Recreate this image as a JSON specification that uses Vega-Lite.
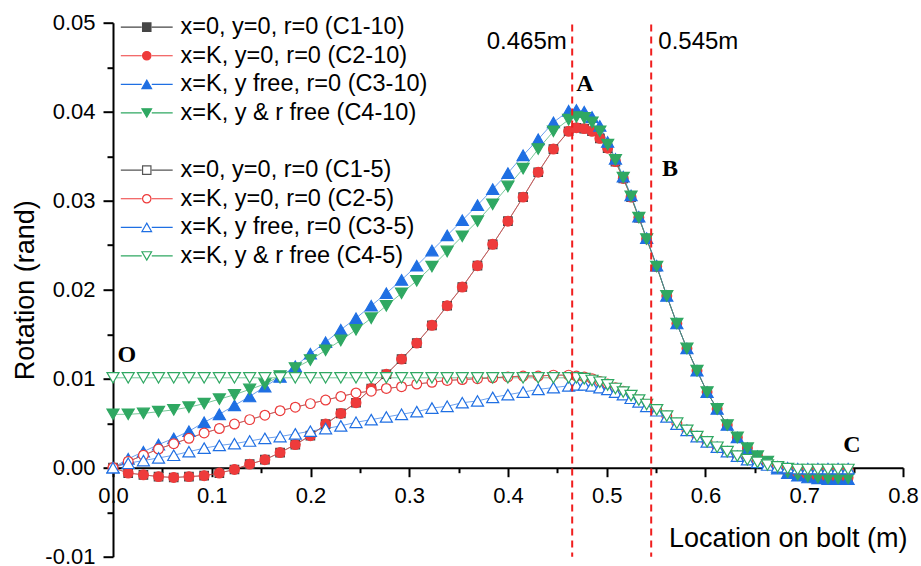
{
"$schema": "https://vega.github.io/schema/vega-lite/v6.json",
"width": 790, "height": 534,
"autosize": {"type": "none"},
"padding": {"left": 113, "top": 22.7, "right": 18, "bottom": 9.3},
"background": "white",
"config": {"view": {"stroke": null}, "font": "Liberation Sans",
 "axis": {"domainColor": "black", "domainWidth": 2, "tickColor": "black", "tickWidth": 2, "labelColor": "black", "labelFont": "Liberation Sans", "labelFontSize": 22, "titleFont": "Liberation Sans", "titleFontSize": 27, "titleFontWeight": "normal", "titleColor": "black", "grid": false},
 "legend": {"orient": "none", "legendX": 22, "legendY": -7.3, "title": null, "padding": 0, "labelFont": "Liberation Sans", "labelFontSize": 23.5, "labelColor": "black", "labelOffset": 22, "labelLimit": 400, "symbolSize": 70, "symbolStrokeWidth": 1.2, "symbolOpacity": 1, "rowPadding": 3.6}},
"data": {"values": [
{"s":"C1-10","x":0,"y":0},{"s":"C1-10","x":0.0154,"y":-0.0006},{"s":"C1-10","x":0.0308,"y":-0.0008},{"s":"C1-10","x":0.0461,"y":-0.001},{"s":"C1-10","x":0.0615,"y":-0.0011},{"s":"C1-10","x":0.0769,"y":-0.001},{"s":"C1-10","x":0.0923,"y":-0.0009},{"s":"C1-10","x":0.1077,"y":-0.0006},{"s":"C1-10","x":0.123,"y":-0.0002},{"s":"C1-10","x":0.1384,"y":0.0004},{"s":"C1-10","x":0.1538,"y":0.0009},{"s":"C1-10","x":0.1692,"y":0.0017},{"s":"C1-10","x":0.1846,"y":0.0026},{"s":"C1-10","x":0.1999,"y":0.0036},{"s":"C1-10","x":0.2153,"y":0.0049},{"s":"C1-10","x":0.2307,"y":0.0061},{"s":"C1-10","x":0.2461,"y":0.0073},{"s":"C1-10","x":0.2615,"y":0.0089},{"s":"C1-10","x":0.2768,"y":0.0105},{"s":"C1-10","x":0.2922,"y":0.0122},{"s":"C1-10","x":0.3076,"y":0.014},{"s":"C1-10","x":0.323,"y":0.016},{"s":"C1-10","x":0.3384,"y":0.0182},{"s":"C1-10","x":0.3537,"y":0.0203},{"s":"C1-10","x":0.3691,"y":0.0227},{"s":"C1-10","x":0.3845,"y":0.0251},{"s":"C1-10","x":0.3999,"y":0.0277},{"s":"C1-10","x":0.4153,"y":0.0304},{"s":"C1-10","x":0.4306,"y":0.0332},{"s":"C1-10","x":0.446,"y":0.0358},{"s":"C1-10","x":0.4614,"y":0.0378},{"s":"C1-10","x":0.4693,"y":0.0382},{"s":"C1-10","x":0.4772,"y":0.0381},{"s":"C1-10","x":0.4851,"y":0.0378},{"s":"C1-10","x":0.493,"y":0.037},{"s":"C1-10","x":0.5009,"y":0.0359},{"s":"C1-10","x":0.5088,"y":0.0344},{"s":"C1-10","x":0.5167,"y":0.0325},{"s":"C1-10","x":0.5246,"y":0.0304},{"s":"C1-10","x":0.5325,"y":0.0281},{"s":"C1-10","x":0.5404,"y":0.0257},{"s":"C1-10","x":0.5506,"y":0.0226},{"s":"C1-10","x":0.5608,"y":0.0193},{"s":"C1-10","x":0.571,"y":0.0162},{"s":"C1-10","x":0.5812,"y":0.0134},{"s":"C1-10","x":0.5914,"y":0.0109},{"s":"C1-10","x":0.6016,"y":0.0085},{"s":"C1-10","x":0.6118,"y":0.0066},{"s":"C1-10","x":0.622,"y":0.0048},{"s":"C1-10","x":0.6322,"y":0.0034},{"s":"C1-10","x":0.6424,"y":0.0022},{"s":"C1-10","x":0.6526,"y":0.0013},{"s":"C1-10","x":0.6628,"y":0.0007},{"s":"C1-10","x":0.673,"y":0},{"s":"C1-10","x":0.6832,"y":-0.0005},{"s":"C1-10","x":0.6934,"y":-0.0008},{"s":"C1-10","x":0.7036,"y":-0.001},{"s":"C1-10","x":0.7138,"y":-0.0011},{"s":"C1-10","x":0.724,"y":-0.0011},{"s":"C1-10","x":0.7342,"y":-0.0011},{"s":"C1-10","x":0.7444,"y":-0.0011},
{"s":"C2-10","x":0,"y":0},{"s":"C2-10","x":0.0154,"y":-0.0006},{"s":"C2-10","x":0.0308,"y":-0.0008},{"s":"C2-10","x":0.0461,"y":-0.001},{"s":"C2-10","x":0.0615,"y":-0.0011},{"s":"C2-10","x":0.0769,"y":-0.001},{"s":"C2-10","x":0.0923,"y":-0.0009},{"s":"C2-10","x":0.1077,"y":-0.0006},{"s":"C2-10","x":0.123,"y":-0.0002},{"s":"C2-10","x":0.1384,"y":0.0004},{"s":"C2-10","x":0.1538,"y":0.0009},{"s":"C2-10","x":0.1692,"y":0.0017},{"s":"C2-10","x":0.1846,"y":0.0026},{"s":"C2-10","x":0.1999,"y":0.0036},{"s":"C2-10","x":0.2153,"y":0.0049},{"s":"C2-10","x":0.2307,"y":0.0061},{"s":"C2-10","x":0.2461,"y":0.0073},{"s":"C2-10","x":0.2615,"y":0.0089},{"s":"C2-10","x":0.2768,"y":0.0105},{"s":"C2-10","x":0.2922,"y":0.0122},{"s":"C2-10","x":0.3076,"y":0.014},{"s":"C2-10","x":0.323,"y":0.016},{"s":"C2-10","x":0.3384,"y":0.0182},{"s":"C2-10","x":0.3537,"y":0.0203},{"s":"C2-10","x":0.3691,"y":0.0227},{"s":"C2-10","x":0.3845,"y":0.0251},{"s":"C2-10","x":0.3999,"y":0.0277},{"s":"C2-10","x":0.4153,"y":0.0304},{"s":"C2-10","x":0.4306,"y":0.0332},{"s":"C2-10","x":0.446,"y":0.0358},{"s":"C2-10","x":0.4614,"y":0.0378},{"s":"C2-10","x":0.4693,"y":0.0382},{"s":"C2-10","x":0.4772,"y":0.0381},{"s":"C2-10","x":0.4851,"y":0.0378},{"s":"C2-10","x":0.493,"y":0.037},{"s":"C2-10","x":0.5009,"y":0.0359},{"s":"C2-10","x":0.5088,"y":0.0344},{"s":"C2-10","x":0.5167,"y":0.0325},{"s":"C2-10","x":0.5246,"y":0.0304},{"s":"C2-10","x":0.5325,"y":0.0281},{"s":"C2-10","x":0.5404,"y":0.0257},{"s":"C2-10","x":0.5506,"y":0.0226},{"s":"C2-10","x":0.5608,"y":0.0193},{"s":"C2-10","x":0.571,"y":0.0162},{"s":"C2-10","x":0.5812,"y":0.0134},{"s":"C2-10","x":0.5914,"y":0.0109},{"s":"C2-10","x":0.6016,"y":0.0085},{"s":"C2-10","x":0.6118,"y":0.0066},{"s":"C2-10","x":0.622,"y":0.0048},{"s":"C2-10","x":0.6322,"y":0.0034},{"s":"C2-10","x":0.6424,"y":0.0022},{"s":"C2-10","x":0.6526,"y":0.0013},{"s":"C2-10","x":0.6628,"y":0.0007},{"s":"C2-10","x":0.673,"y":0},{"s":"C2-10","x":0.6832,"y":-0.0005},{"s":"C2-10","x":0.6934,"y":-0.0008},{"s":"C2-10","x":0.7036,"y":-0.001},{"s":"C2-10","x":0.7138,"y":-0.0011},{"s":"C2-10","x":0.724,"y":-0.0011},{"s":"C2-10","x":0.7342,"y":-0.0011},{"s":"C2-10","x":0.7444,"y":-0.0011},
{"s":"C3-10","x":0,"y":0},{"s":"C3-10","x":0.0154,"y":0.001},{"s":"C3-10","x":0.0308,"y":0.0018},{"s":"C3-10","x":0.0461,"y":0.0026},{"s":"C3-10","x":0.0615,"y":0.0033},{"s":"C3-10","x":0.0769,"y":0.0041},{"s":"C3-10","x":0.0923,"y":0.0051},{"s":"C3-10","x":0.1077,"y":0.006},{"s":"C3-10","x":0.123,"y":0.007},{"s":"C3-10","x":0.1384,"y":0.008},{"s":"C3-10","x":0.1538,"y":0.0091},{"s":"C3-10","x":0.1692,"y":0.0102},{"s":"C3-10","x":0.1846,"y":0.0114},{"s":"C3-10","x":0.1999,"y":0.0128},{"s":"C3-10","x":0.2153,"y":0.0141},{"s":"C3-10","x":0.2307,"y":0.0155},{"s":"C3-10","x":0.2461,"y":0.0168},{"s":"C3-10","x":0.2615,"y":0.0182},{"s":"C3-10","x":0.2768,"y":0.0196},{"s":"C3-10","x":0.2922,"y":0.0211},{"s":"C3-10","x":0.3076,"y":0.0227},{"s":"C3-10","x":0.323,"y":0.0244},{"s":"C3-10","x":0.3384,"y":0.0261},{"s":"C3-10","x":0.3537,"y":0.0278},{"s":"C3-10","x":0.3691,"y":0.0295},{"s":"C3-10","x":0.3845,"y":0.0313},{"s":"C3-10","x":0.3999,"y":0.0331},{"s":"C3-10","x":0.4153,"y":0.0351},{"s":"C3-10","x":0.4306,"y":0.0369},{"s":"C3-10","x":0.446,"y":0.0388},{"s":"C3-10","x":0.4614,"y":0.0401},{"s":"C3-10","x":0.4693,"y":0.0402},{"s":"C3-10","x":0.4772,"y":0.04},{"s":"C3-10","x":0.4851,"y":0.0394},{"s":"C3-10","x":0.493,"y":0.0384},{"s":"C3-10","x":0.5009,"y":0.0366},{"s":"C3-10","x":0.5088,"y":0.0347},{"s":"C3-10","x":0.5167,"y":0.0327},{"s":"C3-10","x":0.5246,"y":0.0306},{"s":"C3-10","x":0.5325,"y":0.0282},{"s":"C3-10","x":0.5404,"y":0.0258},{"s":"C3-10","x":0.5506,"y":0.0227},{"s":"C3-10","x":0.5608,"y":0.0193},{"s":"C3-10","x":0.571,"y":0.0162},{"s":"C3-10","x":0.5812,"y":0.0134},{"s":"C3-10","x":0.5914,"y":0.0109},{"s":"C3-10","x":0.6016,"y":0.0085},{"s":"C3-10","x":0.6118,"y":0.0066},{"s":"C3-10","x":0.622,"y":0.0048},{"s":"C3-10","x":0.6322,"y":0.0034},{"s":"C3-10","x":0.6424,"y":0.0022},{"s":"C3-10","x":0.6526,"y":0.0013},{"s":"C3-10","x":0.6628,"y":0.0006},{"s":"C3-10","x":0.673,"y":-0.0001},{"s":"C3-10","x":0.6832,"y":-0.0006},{"s":"C3-10","x":0.6934,"y":-0.0009},{"s":"C3-10","x":0.7036,"y":-0.0011},{"s":"C3-10","x":0.7138,"y":-0.0012},{"s":"C3-10","x":0.724,"y":-0.0013},{"s":"C3-10","x":0.7342,"y":-0.0013},{"s":"C3-10","x":0.7444,"y":-0.0013},
{"s":"C4-10","x":0,"y":0.006},{"s":"C4-10","x":0.0154,"y":0.006},{"s":"C4-10","x":0.0308,"y":0.0061},{"s":"C4-10","x":0.0461,"y":0.0063},{"s":"C4-10","x":0.0615,"y":0.0065},{"s":"C4-10","x":0.0769,"y":0.0068},{"s":"C4-10","x":0.0923,"y":0.0072},{"s":"C4-10","x":0.1077,"y":0.0077},{"s":"C4-10","x":0.123,"y":0.0082},{"s":"C4-10","x":0.1384,"y":0.0088},{"s":"C4-10","x":0.1538,"y":0.0094},{"s":"C4-10","x":0.1692,"y":0.0103},{"s":"C4-10","x":0.1846,"y":0.0112},{"s":"C4-10","x":0.1999,"y":0.0121},{"s":"C4-10","x":0.2153,"y":0.0132},{"s":"C4-10","x":0.2307,"y":0.0143},{"s":"C4-10","x":0.2461,"y":0.0155},{"s":"C4-10","x":0.2615,"y":0.0168},{"s":"C4-10","x":0.2768,"y":0.0182},{"s":"C4-10","x":0.2922,"y":0.0196},{"s":"C4-10","x":0.3076,"y":0.021},{"s":"C4-10","x":0.323,"y":0.0226},{"s":"C4-10","x":0.3384,"y":0.0243},{"s":"C4-10","x":0.3537,"y":0.026},{"s":"C4-10","x":0.3691,"y":0.0277},{"s":"C4-10","x":0.3845,"y":0.0296},{"s":"C4-10","x":0.3999,"y":0.0316},{"s":"C4-10","x":0.4153,"y":0.0336},{"s":"C4-10","x":0.4306,"y":0.0358},{"s":"C4-10","x":0.446,"y":0.0378},{"s":"C4-10","x":0.4614,"y":0.0391},{"s":"C4-10","x":0.4693,"y":0.0394},{"s":"C4-10","x":0.4772,"y":0.0393},{"s":"C4-10","x":0.4851,"y":0.0388},{"s":"C4-10","x":0.493,"y":0.0378},{"s":"C4-10","x":0.5009,"y":0.0363},{"s":"C4-10","x":0.5088,"y":0.0346},{"s":"C4-10","x":0.5167,"y":0.0326},{"s":"C4-10","x":0.5246,"y":0.0305},{"s":"C4-10","x":0.5325,"y":0.0281},{"s":"C4-10","x":0.5404,"y":0.0257},{"s":"C4-10","x":0.5506,"y":0.0226},{"s":"C4-10","x":0.5608,"y":0.0193},{"s":"C4-10","x":0.571,"y":0.0162},{"s":"C4-10","x":0.5812,"y":0.0134},{"s":"C4-10","x":0.5914,"y":0.0109},{"s":"C4-10","x":0.6016,"y":0.0085},{"s":"C4-10","x":0.6118,"y":0.0066},{"s":"C4-10","x":0.622,"y":0.0048},{"s":"C4-10","x":0.6322,"y":0.0034},{"s":"C4-10","x":0.6424,"y":0.0022},{"s":"C4-10","x":0.6526,"y":0.0013},{"s":"C4-10","x":0.6628,"y":0.0007},{"s":"C4-10","x":0.673,"y":0},{"s":"C4-10","x":0.6832,"y":-0.0005},{"s":"C4-10","x":0.6934,"y":-0.0008},{"s":"C4-10","x":0.7036,"y":-0.001},{"s":"C4-10","x":0.7138,"y":-0.0011},{"s":"C4-10","x":0.724,"y":-0.0012},{"s":"C4-10","x":0.7342,"y":-0.0012},{"s":"C4-10","x":0.7444,"y":-0.0012},
{"s":"C1-5","x":0,"y":0},{"s":"C1-5","x":0.0154,"y":0.0007},{"s":"C1-5","x":0.0308,"y":0.0014},{"s":"C1-5","x":0.0461,"y":0.0021},{"s":"C1-5","x":0.0615,"y":0.0027},{"s":"C1-5","x":0.0769,"y":0.0033},{"s":"C1-5","x":0.0923,"y":0.0039},{"s":"C1-5","x":0.1077,"y":0.0044},{"s":"C1-5","x":0.123,"y":0.0049},{"s":"C1-5","x":0.1384,"y":0.0054},{"s":"C1-5","x":0.1538,"y":0.0059},{"s":"C1-5","x":0.1692,"y":0.0064},{"s":"C1-5","x":0.1846,"y":0.0068},{"s":"C1-5","x":0.1999,"y":0.0072},{"s":"C1-5","x":0.2153,"y":0.0076},{"s":"C1-5","x":0.2307,"y":0.008},{"s":"C1-5","x":0.2461,"y":0.0084},{"s":"C1-5","x":0.2615,"y":0.0086},{"s":"C1-5","x":0.2768,"y":0.0089},{"s":"C1-5","x":0.2922,"y":0.0091},{"s":"C1-5","x":0.3076,"y":0.0094},{"s":"C1-5","x":0.323,"y":0.0096},{"s":"C1-5","x":0.3384,"y":0.0098},{"s":"C1-5","x":0.3537,"y":0.0099},{"s":"C1-5","x":0.3691,"y":0.01},{"s":"C1-5","x":0.3845,"y":0.0101},{"s":"C1-5","x":0.3999,"y":0.0102},{"s":"C1-5","x":0.4153,"y":0.0103},{"s":"C1-5","x":0.4306,"y":0.0103},{"s":"C1-5","x":0.446,"y":0.0104},{"s":"C1-5","x":0.4614,"y":0.0104},{"s":"C1-5","x":0.4693,"y":0.0103},{"s":"C1-5","x":0.4772,"y":0.0102},{"s":"C1-5","x":0.4851,"y":0.01},{"s":"C1-5","x":0.493,"y":0.0097},{"s":"C1-5","x":0.5009,"y":0.0094},{"s":"C1-5","x":0.5088,"y":0.009},{"s":"C1-5","x":0.5167,"y":0.0086},{"s":"C1-5","x":0.5246,"y":0.0081},{"s":"C1-5","x":0.5325,"y":0.0076},{"s":"C1-5","x":0.5404,"y":0.0071},{"s":"C1-5","x":0.5506,"y":0.0065},{"s":"C1-5","x":0.5608,"y":0.0058},{"s":"C1-5","x":0.571,"y":0.005},{"s":"C1-5","x":0.5812,"y":0.0042},{"s":"C1-5","x":0.5914,"y":0.0035},{"s":"C1-5","x":0.6016,"y":0.0029},{"s":"C1-5","x":0.6118,"y":0.0023},{"s":"C1-5","x":0.622,"y":0.0018},{"s":"C1-5","x":0.6322,"y":0.0013},{"s":"C1-5","x":0.6424,"y":0.0009},{"s":"C1-5","x":0.6526,"y":0.0006},{"s":"C1-5","x":0.6628,"y":0.0003},{"s":"C1-5","x":0.673,"y":0.0001},{"s":"C1-5","x":0.6832,"y":-0.0001},{"s":"C1-5","x":0.6934,"y":-0.0002},{"s":"C1-5","x":0.7036,"y":-0.0002},{"s":"C1-5","x":0.7138,"y":-0.0002},{"s":"C1-5","x":0.724,"y":-0.0002},{"s":"C1-5","x":0.7342,"y":-0.0002},{"s":"C1-5","x":0.7444,"y":-0.0002},
{"s":"C2-5","x":0,"y":0},{"s":"C2-5","x":0.0154,"y":0.0007},{"s":"C2-5","x":0.0308,"y":0.0014},{"s":"C2-5","x":0.0461,"y":0.0021},{"s":"C2-5","x":0.0615,"y":0.0027},{"s":"C2-5","x":0.0769,"y":0.0033},{"s":"C2-5","x":0.0923,"y":0.0039},{"s":"C2-5","x":0.1077,"y":0.0044},{"s":"C2-5","x":0.123,"y":0.0049},{"s":"C2-5","x":0.1384,"y":0.0054},{"s":"C2-5","x":0.1538,"y":0.0059},{"s":"C2-5","x":0.1692,"y":0.0064},{"s":"C2-5","x":0.1846,"y":0.0068},{"s":"C2-5","x":0.1999,"y":0.0072},{"s":"C2-5","x":0.2153,"y":0.0076},{"s":"C2-5","x":0.2307,"y":0.008},{"s":"C2-5","x":0.2461,"y":0.0084},{"s":"C2-5","x":0.2615,"y":0.0086},{"s":"C2-5","x":0.2768,"y":0.0089},{"s":"C2-5","x":0.2922,"y":0.0091},{"s":"C2-5","x":0.3076,"y":0.0094},{"s":"C2-5","x":0.323,"y":0.0096},{"s":"C2-5","x":0.3384,"y":0.0098},{"s":"C2-5","x":0.3537,"y":0.0099},{"s":"C2-5","x":0.3691,"y":0.01},{"s":"C2-5","x":0.3845,"y":0.0101},{"s":"C2-5","x":0.3999,"y":0.0102},{"s":"C2-5","x":0.4153,"y":0.0103},{"s":"C2-5","x":0.4306,"y":0.0103},{"s":"C2-5","x":0.446,"y":0.0104},{"s":"C2-5","x":0.4614,"y":0.0104},{"s":"C2-5","x":0.4693,"y":0.0103},{"s":"C2-5","x":0.4772,"y":0.0102},{"s":"C2-5","x":0.4851,"y":0.01},{"s":"C2-5","x":0.493,"y":0.0097},{"s":"C2-5","x":0.5009,"y":0.0094},{"s":"C2-5","x":0.5088,"y":0.009},{"s":"C2-5","x":0.5167,"y":0.0086},{"s":"C2-5","x":0.5246,"y":0.0081},{"s":"C2-5","x":0.5325,"y":0.0076},{"s":"C2-5","x":0.5404,"y":0.0071},{"s":"C2-5","x":0.5506,"y":0.0065},{"s":"C2-5","x":0.5608,"y":0.0058},{"s":"C2-5","x":0.571,"y":0.005},{"s":"C2-5","x":0.5812,"y":0.0042},{"s":"C2-5","x":0.5914,"y":0.0035},{"s":"C2-5","x":0.6016,"y":0.0029},{"s":"C2-5","x":0.6118,"y":0.0023},{"s":"C2-5","x":0.622,"y":0.0018},{"s":"C2-5","x":0.6322,"y":0.0013},{"s":"C2-5","x":0.6424,"y":0.0009},{"s":"C2-5","x":0.6526,"y":0.0006},{"s":"C2-5","x":0.6628,"y":0.0003},{"s":"C2-5","x":0.673,"y":0.0001},{"s":"C2-5","x":0.6832,"y":-0.0001},{"s":"C2-5","x":0.6934,"y":-0.0002},{"s":"C2-5","x":0.7036,"y":-0.0002},{"s":"C2-5","x":0.7138,"y":-0.0002},{"s":"C2-5","x":0.724,"y":-0.0002},{"s":"C2-5","x":0.7342,"y":-0.0002},{"s":"C2-5","x":0.7444,"y":-0.0002},
{"s":"C3-5","x":0,"y":0},{"s":"C3-5","x":0.0154,"y":0.0005},{"s":"C3-5","x":0.0308,"y":0.0008},{"s":"C3-5","x":0.0461,"y":0.0011},{"s":"C3-5","x":0.0615,"y":0.0014},{"s":"C3-5","x":0.0769,"y":0.0018},{"s":"C3-5","x":0.0923,"y":0.0022},{"s":"C3-5","x":0.1077,"y":0.0025},{"s":"C3-5","x":0.123,"y":0.0027},{"s":"C3-5","x":0.1384,"y":0.003},{"s":"C3-5","x":0.1538,"y":0.0033},{"s":"C3-5","x":0.1692,"y":0.0035},{"s":"C3-5","x":0.1846,"y":0.0038},{"s":"C3-5","x":0.1999,"y":0.0041},{"s":"C3-5","x":0.2153,"y":0.0044},{"s":"C3-5","x":0.2307,"y":0.0047},{"s":"C3-5","x":0.2461,"y":0.0051},{"s":"C3-5","x":0.2615,"y":0.0054},{"s":"C3-5","x":0.2768,"y":0.0057},{"s":"C3-5","x":0.2922,"y":0.006},{"s":"C3-5","x":0.3076,"y":0.0063},{"s":"C3-5","x":0.323,"y":0.0067},{"s":"C3-5","x":0.3384,"y":0.0069},{"s":"C3-5","x":0.3537,"y":0.0073},{"s":"C3-5","x":0.3691,"y":0.0075},{"s":"C3-5","x":0.3845,"y":0.0079},{"s":"C3-5","x":0.3999,"y":0.0082},{"s":"C3-5","x":0.4153,"y":0.0085},{"s":"C3-5","x":0.4306,"y":0.0088},{"s":"C3-5","x":0.446,"y":0.009},{"s":"C3-5","x":0.4614,"y":0.0092},{"s":"C3-5","x":0.4693,"y":0.0093},{"s":"C3-5","x":0.4772,"y":0.0093},{"s":"C3-5","x":0.4851,"y":0.0092},{"s":"C3-5","x":0.493,"y":0.009},{"s":"C3-5","x":0.5009,"y":0.0088},{"s":"C3-5","x":0.5088,"y":0.0085},{"s":"C3-5","x":0.5167,"y":0.0082},{"s":"C3-5","x":0.5246,"y":0.0078},{"s":"C3-5","x":0.5325,"y":0.0074},{"s":"C3-5","x":0.5404,"y":0.0069},{"s":"C3-5","x":0.5506,"y":0.0064},{"s":"C3-5","x":0.5608,"y":0.0057},{"s":"C3-5","x":0.571,"y":0.0049},{"s":"C3-5","x":0.5812,"y":0.0042},{"s":"C3-5","x":0.5914,"y":0.0035},{"s":"C3-5","x":0.6016,"y":0.0029},{"s":"C3-5","x":0.6118,"y":0.0023},{"s":"C3-5","x":0.622,"y":0.0018},{"s":"C3-5","x":0.6322,"y":0.0013},{"s":"C3-5","x":0.6424,"y":0.0009},{"s":"C3-5","x":0.6526,"y":0.0006},{"s":"C3-5","x":0.6628,"y":0.0003},{"s":"C3-5","x":0.673,"y":0.0001},{"s":"C3-5","x":0.6832,"y":0},{"s":"C3-5","x":0.6934,"y":-0.0001},{"s":"C3-5","x":0.7036,"y":-0.0001},{"s":"C3-5","x":0.7138,"y":-0.0001},{"s":"C3-5","x":0.724,"y":-0.0001},{"s":"C3-5","x":0.7342,"y":-0.0001},{"s":"C3-5","x":0.7444,"y":-0.0001},
{"s":"C4-5","x":0,"y":0.0101},{"s":"C4-5","x":0.0154,"y":0.0101},{"s":"C4-5","x":0.0308,"y":0.0101},{"s":"C4-5","x":0.0461,"y":0.0101},{"s":"C4-5","x":0.0615,"y":0.0101},{"s":"C4-5","x":0.0769,"y":0.0101},{"s":"C4-5","x":0.0923,"y":0.0101},{"s":"C4-5","x":0.1077,"y":0.0101},{"s":"C4-5","x":0.123,"y":0.0101},{"s":"C4-5","x":0.1384,"y":0.0101},{"s":"C4-5","x":0.1538,"y":0.0101},{"s":"C4-5","x":0.1692,"y":0.0101},{"s":"C4-5","x":0.1846,"y":0.0101},{"s":"C4-5","x":0.1999,"y":0.0101},{"s":"C4-5","x":0.2153,"y":0.0101},{"s":"C4-5","x":0.2307,"y":0.0101},{"s":"C4-5","x":0.2461,"y":0.0101},{"s":"C4-5","x":0.2615,"y":0.0101},{"s":"C4-5","x":0.2768,"y":0.0101},{"s":"C4-5","x":0.2922,"y":0.0101},{"s":"C4-5","x":0.3076,"y":0.0101},{"s":"C4-5","x":0.323,"y":0.0101},{"s":"C4-5","x":0.3384,"y":0.0101},{"s":"C4-5","x":0.3537,"y":0.0101},{"s":"C4-5","x":0.3691,"y":0.0101},{"s":"C4-5","x":0.3845,"y":0.0101},{"s":"C4-5","x":0.3999,"y":0.0101},{"s":"C4-5","x":0.4153,"y":0.0101},{"s":"C4-5","x":0.4306,"y":0.0101},{"s":"C4-5","x":0.446,"y":0.0101},{"s":"C4-5","x":0.4614,"y":0.0101},{"s":"C4-5","x":0.4693,"y":0.0101},{"s":"C4-5","x":0.4772,"y":0.01},{"s":"C4-5","x":0.4851,"y":0.0098},{"s":"C4-5","x":0.493,"y":0.0096},{"s":"C4-5","x":0.5009,"y":0.0093},{"s":"C4-5","x":0.5088,"y":0.0089},{"s":"C4-5","x":0.5167,"y":0.0085},{"s":"C4-5","x":0.5246,"y":0.0081},{"s":"C4-5","x":0.5325,"y":0.0076},{"s":"C4-5","x":0.5404,"y":0.0071},{"s":"C4-5","x":0.5506,"y":0.0065},{"s":"C4-5","x":0.5608,"y":0.0058},{"s":"C4-5","x":0.571,"y":0.005},{"s":"C4-5","x":0.5812,"y":0.0042},{"s":"C4-5","x":0.5914,"y":0.0035},{"s":"C4-5","x":0.6016,"y":0.0029},{"s":"C4-5","x":0.6118,"y":0.0023},{"s":"C4-5","x":0.622,"y":0.0018},{"s":"C4-5","x":0.6322,"y":0.0013},{"s":"C4-5","x":0.6424,"y":0.0009},{"s":"C4-5","x":0.6526,"y":0.0006},{"s":"C4-5","x":0.6628,"y":0.0003},{"s":"C4-5","x":0.673,"y":0.0001},{"s":"C4-5","x":0.6832,"y":-0.0001},{"s":"C4-5","x":0.6934,"y":-0.0002},{"s":"C4-5","x":0.7036,"y":-0.0002},{"s":"C4-5","x":0.7138,"y":-0.0002},{"s":"C4-5","x":0.724,"y":-0.0002},{"s":"C4-5","x":0.7342,"y":-0.0002},{"s":"C4-5","x":0.7444,"y":-0.0002}
]},
"layer": [
{"mark": {"type": "line", "strokeWidth": 1, "opacity": 0.65},
 "encoding": {
  "x": {"field": "x", "type": "quantitative", "scale": {"domain": [0, 0.8], "nice": false, "zero": false},
   "axis": {"values": [0,0.05,0.1,0.15,0.2,0.25,0.3,0.35,0.4,0.45,0.5,0.55,0.6,0.65,0.7,0.75,0.8], "offset": -89, "title": "Location on bolt (m)", "titleX": 794, "titleY": 79, "titleAlign": "right", "titleBaseline": "alphabetic", "labelExpr": "abs(datum.value*10 - round(datum.value*10)) > 0.1 ? '' : format(datum.value, '.1f')", "tickSize": {"condition": {"test": "abs(datum.value*10 - round(datum.value*10)) > 0.1", "value": 5}, "value": 9}, "labelPadding": 9, "labelFlush": false, "labelOverlap": false}},
  "y": {"field": "y", "type": "quantitative", "scale": {"domain": [-0.01, 0.05], "nice": false, "zero": false},
   "axis": {"values": [-0.01,-0.005,0,0.005,0.01,0.015,0.02,0.025,0.03,0.035,0.04,0.045,0.05], "title": "Rotation (rand)", "titleX": -80, "titleY": 267, "titleAlign": "center", "titleBaseline": "alphabetic", "titleAngle": 270, "labelExpr": "abs(datum.value*100 - round(datum.value*100)) > 0.1 ? '' : (datum.value < -0.0001 ? '-' + format(-datum.value, '.2f') : format(abs(datum.value), '.2f'))", "tickSize": {"condition": {"test": "abs(datum.value*100 - round(datum.value*100)) > 0.1", "value": 6}, "value": 10}, "labelPadding": 8, "labelFlush": false, "labelOverlap": false}},
  "stroke": {"field": "s", "type": "nominal", "scale": {"domain": ["C1-10","C2-10","C3-10","C4-10","gap","C1-5","C2-5","C3-5","C4-5"], "range": ["#454545","#ee3b3b","#1f6fe3","#2fa862","transparent","#555555","#ee3b3b","#1f6fe3","#2fa862"]},
   "legend": {"labelExpr": "datum.label == 'C1-10' ? 'x=0, y=0, r=0 (C1-10)' : datum.label == 'C2-10' ? 'x=K, y=0, r=0 (C2-10)' : datum.label == 'C3-10' ? 'x=K, y free, r=0 (C3-10)' : datum.label == 'C4-10' ? 'x=K, y & r free (C4-10)' : datum.label == 'C1-5' ? 'x=0, y=0, r=0 (C1-5)' : datum.label == 'C2-5' ? 'x=K, y=0, r=0 (C2-5)' : datum.label == 'C3-5' ? 'x=K, y free, r=0 (C3-5)' : datum.label == 'C4-5' ? 'x=K, y & r free (C4-5)' : ' '",
    "encode": {"symbols": {"update": {"shape": {"signal": "'M-6.2,0H-1.2M1.2,0H6.2' + scale('shape', datum.value)"}, "opacity": {"value": 1}}}}}}
 }},
{"mark": {"type": "point", "opacity": 1, "strokeWidth": 1.2},
 "encoding": {
  "x": {"field": "x", "type": "quantitative", "scale": {"domain": [0, 0.8], "nice": false, "zero": false}},
  "y": {"field": "y", "type": "quantitative", "scale": {"domain": [-0.01, 0.05], "nice": false, "zero": false}},
  "stroke": {"field": "s", "type": "nominal", "scale": {"domain": ["C1-10","C2-10","C3-10","C4-10","gap","C1-5","C2-5","C3-5","C4-5"], "range": ["#454545","#ee3b3b","#1f6fe3","#2fa862","transparent","#555555","#ee3b3b","#1f6fe3","#2fa862"]},
   "legend": {"labelExpr": "datum.label == 'C1-10' ? 'x=0, y=0, r=0 (C1-10)' : datum.label == 'C2-10' ? 'x=K, y=0, r=0 (C2-10)' : datum.label == 'C3-10' ? 'x=K, y free, r=0 (C3-10)' : datum.label == 'C4-10' ? 'x=K, y & r free (C4-10)' : datum.label == 'C1-5' ? 'x=0, y=0, r=0 (C1-5)' : datum.label == 'C2-5' ? 'x=K, y=0, r=0 (C2-5)' : datum.label == 'C3-5' ? 'x=K, y free, r=0 (C3-5)' : datum.label == 'C4-5' ? 'x=K, y & r free (C4-5)' : ' '",
    "encode": {"symbols": {"update": {"shape": {"signal": "'M-6.2,0H-1.2M1.2,0H6.2' + scale('shape', datum.value)"}, "opacity": {"value": 1}}}}}},
  "fill": {"field": "s", "type": "nominal", "scale": {"domain": ["C1-10","C2-10","C3-10","C4-10","gap","C1-5","C2-5","C3-5","C4-5"], "range": ["#454545","#ee3b3b","#1f6fe3","#2fa862","transparent","white","white","white","white"]},
   "legend": {"labelExpr": "datum.label == 'C1-10' ? 'x=0, y=0, r=0 (C1-10)' : datum.label == 'C2-10' ? 'x=K, y=0, r=0 (C2-10)' : datum.label == 'C3-10' ? 'x=K, y free, r=0 (C3-10)' : datum.label == 'C4-10' ? 'x=K, y & r free (C4-10)' : datum.label == 'C1-5' ? 'x=0, y=0, r=0 (C1-5)' : datum.label == 'C2-5' ? 'x=K, y=0, r=0 (C2-5)' : datum.label == 'C3-5' ? 'x=K, y free, r=0 (C3-5)' : datum.label == 'C4-5' ? 'x=K, y & r free (C4-5)' : ' '",
    "encode": {"symbols": {"update": {"shape": {"signal": "'M-6.2,0H-1.2M1.2,0H6.2' + scale('shape', datum.value)"}, "opacity": {"value": 1}}}}}},
  "shape": {"field": "s", "type": "nominal", "scale": {"domain": ["gap","C1-5","C2-5","C3-5","C4-5","C1-10","C2-10","C3-10","C4-10"], "range": ["M0,0","M-1,-1H1V1H-1Z","M-1,0A1,1,0,1,0,1,0A1,1,0,1,0,-1,0Z","M0,-1L1.15,1H-1.15Z","M0,1L1.15,-1H-1.15Z","M-1,-1H1V1H-1Z","M-1,0A1,1,0,1,0,1,0A1,1,0,1,0,-1,0Z","M0,-1L1.15,1H-1.15Z","M0,1L1.15,-1H-1.15Z"]}, "legend": null},
  "size": {"field": "s", "type": "ordinal", "scale": {"type": "ordinal", "domain": ["C4-5","C3-5","C2-5","C1-5","gap","C4-10","C3-10","C2-10","C1-10"], "range": [110, 110, 95, 44, 0, 110, 110, 95, 72]}, "legend": null}
 }},
{"data": {"values": [{"x": 0.465, "y": 0.0498, "y2": -0.01}, {"x": 0.545, "y": 0.0498, "y2": -0.01}]},
 "mark": {"type": "rule", "color": "#f01e1e", "strokeWidth": 2, "strokeDash": [7, 5]},
 "encoding": {
  "x": {"field": "x", "type": "quantitative", "scale": {"domain": [0, 0.8], "nice": false, "zero": false}},
  "y": {"field": "y", "type": "quantitative", "scale": {"domain": [-0.01, 0.05], "nice": false, "zero": false}},
  "y2": {"field": "y2"}}},
{"data": {"values": [{"x": 0.4595, "y": 0.04783, "t": "0.465m"}]},
 "mark": {"type": "text", "align": "right", "baseline": "middle", "font": "Liberation Sans", "fontSize": 24, "color": "black"},
 "encoding": {
  "x": {"field": "x", "type": "quantitative", "scale": {"domain": [0, 0.8], "nice": false, "zero": false}},
  "y": {"field": "y", "type": "quantitative", "scale": {"domain": [-0.01, 0.05], "nice": false, "zero": false}},
  "text": {"field": "t"}}},
{"data": {"values": [{"x": 0.5522, "y": 0.04783, "t": "0.545m"}]},
 "mark": {"type": "text", "align": "left", "baseline": "middle", "font": "Liberation Sans", "fontSize": 24, "color": "black"},
 "encoding": {
  "x": {"field": "x", "type": "quantitative", "scale": {"domain": [0, 0.8], "nice": false, "zero": false}},
  "y": {"field": "y", "type": "quantitative", "scale": {"domain": [-0.01, 0.05], "nice": false, "zero": false}},
  "text": {"field": "t"}}},
{"data": {"values": [{"x": 0.0139, "y": 0.01266, "t": "O"}, {"x": 0.478, "y": 0.0431, "t": "A"}, {"x": 0.564, "y": 0.03356, "t": "B"}, {"x": 0.7484, "y": 0.0025, "t": "C"}]},
 "mark": {"type": "text", "align": "center", "baseline": "middle", "font": "Liberation Serif", "fontWeight": "bold", "fontSize": 24, "color": "black"},
 "encoding": {
  "x": {"field": "x", "type": "quantitative", "scale": {"domain": [0, 0.8], "nice": false, "zero": false}},
  "y": {"field": "y", "type": "quantitative", "scale": {"domain": [-0.01, 0.05], "nice": false, "zero": false}},
  "text": {"field": "t"}}}
]
}
